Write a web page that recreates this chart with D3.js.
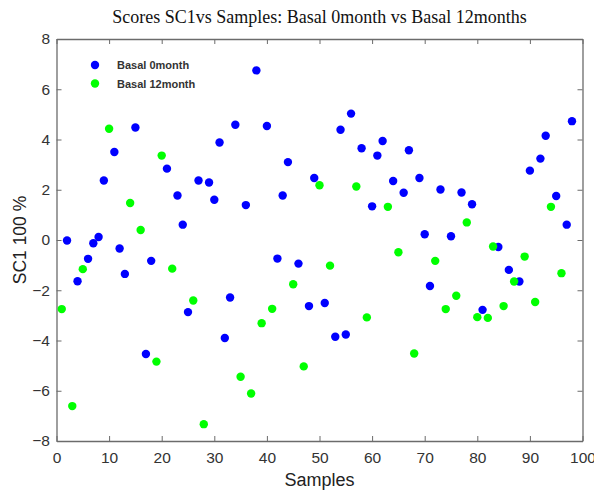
<!DOCTYPE html>
<html>
<head>
<meta charset="utf-8">
<script src="https://cdn.jsdelivr.net/npm/d3@7"></script>
<style>
  html, body { margin: 0; padding: 0; background: #fff; }
  svg { display: block; }
</style>
</head>
<body>
<svg id="chart" width="594" height="490"></svg>
<script>
// Sample index and SC1 score for each group
const basal0Samples = [2,4,6,7,8,9,11,12,13,15,17,18,21,23,24,25,27,29,30,31,32,33,34,36,38,40,42,43,44,46,48,49,51,53,54,55,56,58,60,61,62,64,66,67,69,70,71,73,75,77,79,81,84,86,88,90,92,93,95,97,98];
const basal0Scores  = [-0.02,-1.64,-0.75,-0.13,0.12,2.37,3.5,-0.34,-1.35,4.48,-4.54,-0.83,2.84,1.77,0.61,-2.87,2.37,2.29,1.6,3.88,-3.9,-2.29,4.59,1.39,6.75,4.54,-0.74,1.77,3.1,-0.94,-2.63,2.47,-2.51,-3.85,4.39,-3.76,5.03,3.65,1.34,3.36,3.94,2.35,1.88,3.57,2.47,0.23,-1.83,2.01,0.15,1.89,1.42,-2.78,-0.28,-1.19,-1.65,2.76,3.24,4.15,1.75,0.61,4.73];

const basal12Samples = [1,3,5,10,14,16,19,20,22,26,28,35,37,39,41,45,47,50,52,57,59,63,65,68,72,74,76,78,80,82,83,85,87,89,91,94,96];
const basal12Scores  = [-2.75,-6.61,-1.16,4.43,1.47,0.4,-4.84,3.36,-1.14,-2.41,-7.33,-5.44,-6.11,-3.31,-2.74,-1.76,-5.03,2.18,-1.02,2.13,-3.08,1.32,-0.49,-4.52,-0.83,-2.75,-2.22,0.7,-3.07,-3.1,-0.26,-2.63,-1.65,-0.66,-2.47,1.32,-1.32];

const seriesNames  = ["Basal 0month", "Basal 12month"];
const seriesColors = ["#0000ff", "#00ff00"];

const xTicks = [0,10,20,30,40,50,60,70,80,90,100];
const yTicks = [8,6,4,2,0,-2,-4,-6,-8];

const svg = d3.select("#chart");
const margin = { left: 56.5, right: 11.5, top: 39, bottom: 49 };
const W = 594, H = 490;
const x = d3.scaleLinear().domain([0, 100]).range([margin.left, W - margin.right]);
const y = d3.scaleLinear().domain([-8, 8]).range([H - margin.bottom, margin.top]);
const xMid = (x(0) + x(100)) / 2;

const axisColor = "#6b6b6b";
const sansFont = "Liberation Sans, Arial, sans-serif";

// Frame with inward ticks on all four sides
const gB = svg.append("g").attr("transform", `translate(0,${y(-8)})`)
  .call(d3.axisBottom(x).tickValues(xTicks).tickSizeInner(-5).tickSizeOuter(0).tickPadding(11));
const gT = svg.append("g").attr("transform", `translate(0,${y(8)})`)
  .call(d3.axisTop(x).tickValues(xTicks).tickSizeInner(-5).tickSizeOuter(0).tickFormat(""));
const gL = svg.append("g").attr("transform", `translate(${x(0)},0)`)
  .call(d3.axisLeft(y).tickValues(yTicks).tickSizeInner(-5).tickSizeOuter(0).tickPadding(6.5));
const gR = svg.append("g").attr("transform", `translate(${x(100)},0)`)
  .call(d3.axisRight(y).tickValues(yTicks).tickSizeInner(-5).tickSizeOuter(0).tickFormat(""));

[gB, gT, gL, gR].forEach(g => {
  g.selectAll(".domain").attr("stroke", axisColor).attr("stroke-width", 1.3);
  g.selectAll(".tick line").attr("stroke", axisColor).attr("stroke-width", 1);
  g.selectAll(".tick text").attr("fill", "#333").attr("font-family", sansFont).attr("font-size", 15.5);
});

// Data points
const groups = [
  { name: seriesNames[0], color: seriesColors[0], xs: basal0Samples, ys: basal0Scores },
  { name: seriesNames[1], color: seriesColors[1], xs: basal12Samples, ys: basal12Scores }
];
groups.forEach(g => {
  svg.append("g").selectAll("circle")
    .data(g.xs.map((s, i) => [s, g.ys[i]]))
    .join("circle")
    .attr("cx", d => x(d[0]))
    .attr("cy", d => y(d[1]))
    .attr("r", 4.2)
    .attr("fill", g.color);
});

// Legend
const legend = svg.append("g");
groups.forEach((g, i) => {
  const ly = 65 + i * 18.5;
  legend.append("circle").attr("cx", 95).attr("cy", ly).attr("r", 4.2).attr("fill", g.color);
  legend.append("text").attr("x", 117).attr("y", ly + 4)
    .attr("font-family", sansFont).attr("font-size", 11).attr("font-weight", "bold")
    .attr("fill", "#333").text(g.name);
});

// Title and axis labels
svg.append("text").attr("x", xMid).attr("y", 23).attr("text-anchor", "middle")
  .attr("font-family", "Liberation Serif, Times New Roman, serif").attr("font-size", 18)
  .attr("fill", "#111").text("Scores SC1vs Samples: Basal 0month vs Basal 12months");

svg.append("text").attr("x", xMid).attr("y", 486).attr("text-anchor", "middle")
  .attr("font-family", sansFont).attr("font-size", 18).attr("fill", "#222").text("Samples");

svg.append("text").attr("transform", `translate(25.5,${y(0)}) rotate(-90)`).attr("text-anchor", "middle")
  .attr("font-family", sansFont).attr("font-size", 17.5).attr("fill", "#222").text("SC1 100 %");
</script>
</body>
</html>
